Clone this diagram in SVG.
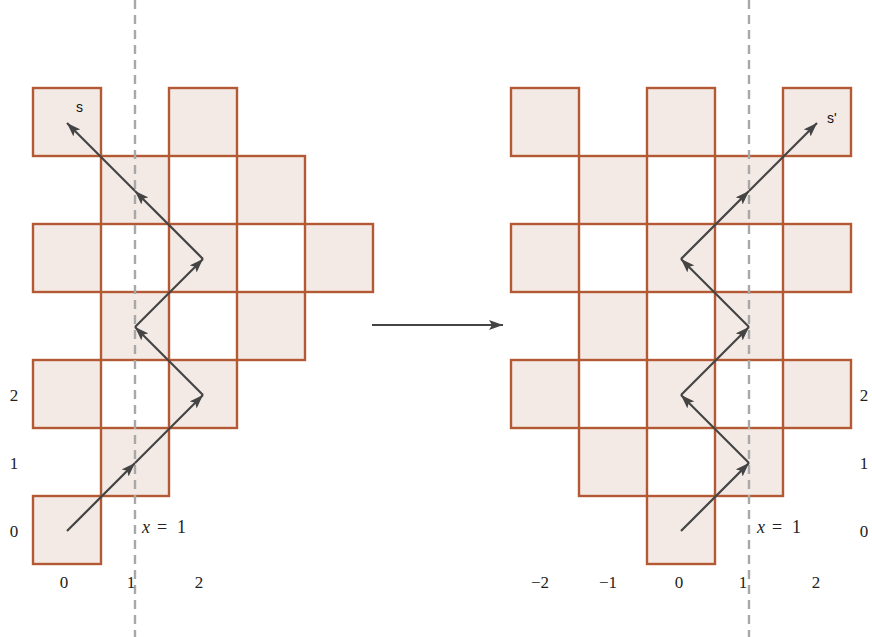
<svg xmlns="http://www.w3.org/2000/svg" width="872" height="637" viewBox="0 0 872 637">
<defs>
<marker id="ah" viewBox="0 0 14 10" refX="14" refY="5" markerWidth="14" markerHeight="10" markerUnits="userSpaceOnUse" orient="auto">
<path d="M0,0 L14,5 L0,10 L3,5 Z" fill="#444"/>
</marker>
</defs>
<style>
.sq{fill:#f3e9e5;stroke:#b35a35;stroke-width:2.4}
.dash{stroke:#a8a8a8;stroke-width:2.4;stroke-dasharray:9,6;fill:none}
.path{stroke:#444;stroke-width:2.2;fill:none;marker-end:url(#ah)}
.num{font-family:"Liberation Serif","DejaVu Serif",serif;font-size:17px;fill:#222;text-anchor:middle}
.eq{font-family:"Liberation Serif","DejaVu Serif",serif;font-size:18px;fill:#222}
.lab{font-family:"Liberation Sans",Arial,sans-serif;font-size:14px;fill:#111}
</style>
<rect width="872" height="637" fill="#fff"/>
<g id="left-grid">
<rect class="sq" x="33" y="88" width="68" height="68"/>
<rect class="sq" x="169" y="88" width="68" height="68"/>
<rect class="sq" x="101" y="156" width="68" height="68"/>
<rect class="sq" x="237" y="156" width="68" height="68"/>
<rect class="sq" x="33" y="224" width="68" height="68"/>
<rect class="sq" x="169" y="224" width="68" height="68"/>
<rect class="sq" x="305" y="224" width="68" height="68"/>
<rect class="sq" x="101" y="292" width="68" height="68"/>
<rect class="sq" x="237" y="292" width="68" height="68"/>
<rect class="sq" x="33" y="360" width="68" height="68"/>
<rect class="sq" x="169" y="360" width="68" height="68"/>
<rect class="sq" x="101" y="428" width="68" height="68"/>
<rect class="sq" x="33" y="496" width="68" height="68"/>
</g>
<g id="right-grid">
<rect class="sq" x="511" y="88" width="68" height="68"/>
<rect class="sq" x="647" y="88" width="68" height="68"/>
<rect class="sq" x="783" y="88" width="68" height="68"/>
<rect class="sq" x="579" y="156" width="68" height="68"/>
<rect class="sq" x="715" y="156" width="68" height="68"/>
<rect class="sq" x="511" y="224" width="68" height="68"/>
<rect class="sq" x="647" y="224" width="68" height="68"/>
<rect class="sq" x="783" y="224" width="68" height="68"/>
<rect class="sq" x="579" y="292" width="68" height="68"/>
<rect class="sq" x="715" y="292" width="68" height="68"/>
<rect class="sq" x="511" y="360" width="68" height="68"/>
<rect class="sq" x="647" y="360" width="68" height="68"/>
<rect class="sq" x="783" y="360" width="68" height="68"/>
<rect class="sq" x="579" y="428" width="68" height="68"/>
<rect class="sq" x="715" y="428" width="68" height="68"/>
<rect class="sq" x="647" y="496" width="68" height="68"/>
</g>
<g id="dashed-lines">
<line class="dash" x1="135" y1="0" x2="135" y2="637"/>
<line class="dash" x1="749" y1="0" x2="749" y2="637"/>
</g>
<g id="connectors">
<line class="path" x1="67" y1="531" x2="135" y2="463"/>
<line class="path" x1="135" y1="463" x2="203" y2="395"/>
<line class="path" x1="203" y1="395" x2="135" y2="327"/>
<line class="path" x1="135" y1="327" x2="203" y2="259"/>
<line class="path" x1="203" y1="259" x2="135" y2="191"/>
<line class="path" x1="135" y1="191" x2="67" y2="123"/>
<line class="path" x1="681" y1="531" x2="749" y2="463"/>
<line class="path" x1="749" y1="463" x2="681" y2="395"/>
<line class="path" x1="681" y1="395" x2="749" y2="327"/>
<line class="path" x1="749" y1="327" x2="681" y2="259"/>
<line class="path" x1="681" y1="259" x2="749" y2="191"/>
<line class="path" x1="749" y1="191" x2="817" y2="123"/>
<line class="path" x1="372" y1="325" x2="503" y2="325"/>
</g>
<g id="labels">
<text class="lab" x="76" y="112">s</text>
<text class="lab" x="827" y="123">s'</text>
<text class="num" x="14" y="537">0</text>
<text class="num" x="14" y="469">1</text>
<text class="num" x="14" y="401">2</text>
<text class="num" x="864" y="537">0</text>
<text class="num" x="864" y="469">1</text>
<text class="num" x="864" y="401">2</text>
<text class="num" x="64" y="588">0</text>
<text class="num" x="131" y="588">1</text>
<text class="num" x="199" y="588">2</text>
<text class="num" x="540" y="588">−2</text>
<text class="num" x="608" y="588">−1</text>
<text class="num" x="679" y="588">0</text>
<text class="num" x="743" y="588">1</text>
<text class="num" x="816" y="588">2</text>
<text class="eq" y="533"><tspan x="142" font-style="italic">x</tspan><tspan x="157">=</tspan><tspan x="177">1</tspan></text>
<text class="eq" y="533"><tspan x="757" font-style="italic">x</tspan><tspan x="772">=</tspan><tspan x="792">1</tspan></text>
</g>
</svg>
